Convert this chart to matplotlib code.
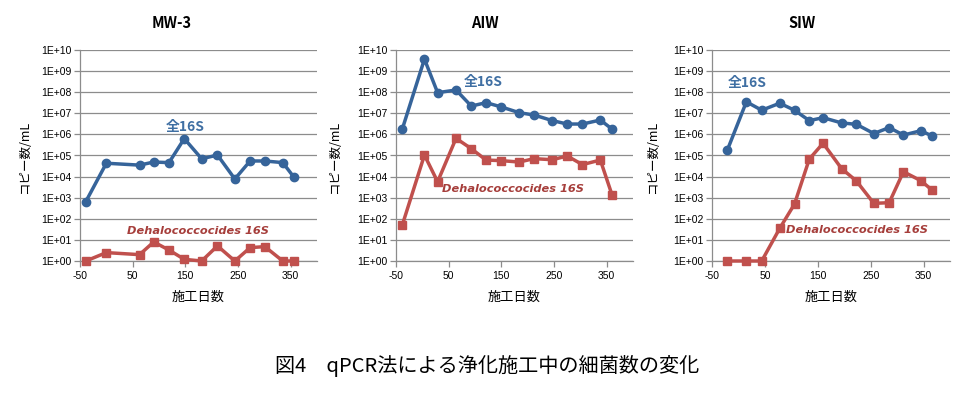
import matplotlib
matplotlib.use("Agg")
import matplotlib.pyplot as plt
from matplotlib.ticker import FixedLocator, FuncFormatter, NullLocator
import numpy as np

plt.rcParams['font.family'] = ['Noto Sans CJK JP', 'DejaVu Sans']
plt.rcParams['axes.unicode_minus'] = False

# ---- data ----
titles = ["MW-3", "AIW", "SIW"]

mw3_days = [-39, 0, 63, 90, 119, 148, 181, 211, 244, 273, 301, 335, 356]
mw3_total = [6.5e2, 4.3e4, 3.5e4, 4.9e4, 4.6e4, 6.3e5, 7.0e4, 1.05e5, 7.7e3, 5.5e4, 5.5e4, 4.6e4, 9.5e3]
mw3_dhc = [1, 2.5, 2.0, 8.0, 3.3, 1.2, 1, 5.2, 1, 4.3, 4.8, 1, 1]

aiw_days = [-38, 4, 29, 64, 93, 121, 150, 184, 212, 247, 275, 304, 338, 360]
aiw_total = [1.8e6, 3.7e9, 9.5e7, 1.27e8, 2.2e7, 3.2e7, 2.0e7, 1.07e7, 8.3e6, 4.5e6, 3.1e6, 3.1e6, 4.8e6, 1.8e6]
aiw_dhc = [51, 1.05e5, 5.7e3, 6.5e5, 2.1e5, 6.1e4, 5.7e4, 4.9e4, 7.1e4, 6.3e4, 9.5e4, 3.7e4, 6.1e4, 1.4e3]

siw_days = [-21, 15, 44, 78, 106, 134, 160, 195, 223, 256, 285, 312, 345, 366]
siw_total = [1.8e5, 3.5e7, 1.4e7, 3.0e7, 1.4e7, 4.5e6, 6.2e6, 3.5e6, 3.0e6, 1.1e6, 2.1e6, 9.3e5, 1.5e6, 8.4e5]
siw_dhc = [1, 1, 1, 35, 500, 6.8e4, 3.8e5, 2.4e4, 6.2e3, 540, 580, 1.7e4, 6.4e3, 2.3e3]

x_ticks = [-50, 50, 150, 250, 350]
y_exponents = list(range(0, 11))

total_label = "全16S"
dhc_label = "Dehalococcocides 16S"
ylabel = "コピー数/mL"
xlabel = "施工日数"
caption = "図4　qPCR法による浄化施工中の細菌数の変化"

# annotation positions (day, log10 value)
total_label_pos = [(149, 6.35), (115, 8.48), (17, 8.44)]
dhc_label_pos = [(174, 1.42), (172, 3.41), (224, 1.47)]

series = [(mw3_days, mw3_total, mw3_dhc), (aiw_days, aiw_total, aiw_dhc), (siw_days, siw_total, siw_dhc)]

W, H = 973, 394
fig = plt.figure(figsize=(W / 100, H / 100), dpi=100)

axes_px = [(80, 317), (396, 633), (712, 950)]
top_px, bot_px = 50, 261
title_x = [172, 485, 802]

blue = "#36649A"
red = "#C0504D"
blue_txt = "#3F6FA3"
red_txt = "#A63E3B"
grid_c = "#8C8C8C"

for i, (x0, x1) in enumerate(axes_px):
    ax = fig.add_axes([x0 / W, 1 - bot_px / H, (x1 - x0) / W, (bot_px - top_px) / H])
    days, tot, dhc = series[i]
    ax.set_yscale("log")
    ax.set_ylim(1, 1e10)
    ax.set_xlim(-50, 400)
    ax.yaxis.set_major_locator(FixedLocator([10.0 ** e for e in y_exponents]))
    ax.yaxis.set_minor_locator(NullLocator())
    ax.yaxis.set_major_formatter(FuncFormatter(lambda v, p: "1E+%02d" % int(round(np.log10(v)))))
    ax.xaxis.set_major_locator(FixedLocator(x_ticks))
    ax.grid(axis="y", color=grid_c, linewidth=0.9)
    ax.set_axisbelow(True)
    for s in ["top", "right"]:
        ax.spines[s].set_visible(False)
    for s in ["left", "bottom"]:
        ax.spines[s].set_color(grid_c)
        ax.spines[s].set_linewidth(0.9)
    ax.tick_params(axis="both", colors=grid_c, labelcolor="black", labelsize=7.5,
                   length=4, width=0.9, direction="out")
    ax.tick_params(axis="x", pad=3)
    ax.tick_params(axis="y", pad=2)
    for lab in ax.get_yticklabels() + ax.get_xticklabels():
        lab.set_family(["Liberation Sans", "DejaVu Sans"])

    ax.plot(days, tot, color=blue, linewidth=2.5, marker="o", markersize=6, clip_on=False, zorder=3)
    ax.plot(days, dhc, color=red, linewidth=2.5, marker="s", markersize=6, clip_on=False, zorder=3)

    tx, ty = total_label_pos[i]
    ax.text(tx, 10 ** ty, total_label, color=blue_txt, fontsize=10, fontweight="bold",
            ha="center", va="center")
    dx, dy = dhc_label_pos[i]
    ax.text(dx, 10 ** dy, dhc_label, color=red_txt, fontsize=8.2, fontweight="bold",
            fontstyle="italic", ha="center", va="center",
            family=["DejaVu Sans"])

    fig.text(title_x[i] / W, 1 - 23 / H,
             titles[i], fontsize=10.5, fontweight="bold", ha="center", va="center")
    fig.text((x0 + x1) / 2 / W, 1 - 297 / H, xlabel, fontsize=9.5, ha="center", va="center")
    ylab_x = [25, 335, 653][i]
    fig.text(ylab_x / W, 1 - 157 / H, ylabel, fontsize=9, rotation=90, ha="center", va="center")

fig.text(487 / W, 1 - 366 / H, caption, fontsize=14.5, ha="center", va="center")

fig.savefig("out.png", dpi=100, facecolor="white")
